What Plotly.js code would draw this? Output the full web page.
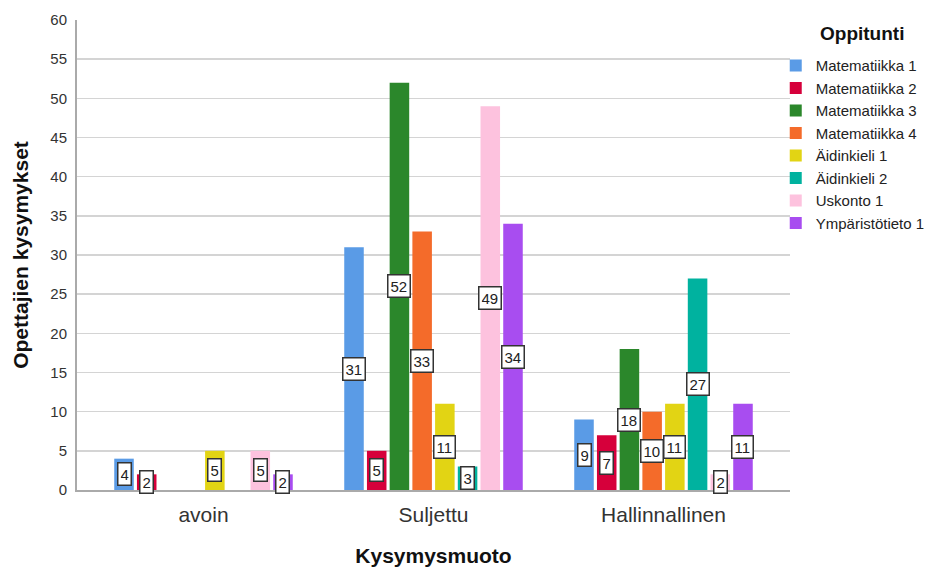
<!DOCTYPE html>
<html>
<head>
<meta charset="utf-8">
<script src="https://cdn.plot.ly/plotly-3.0.1.min.js"></script>
<style>
html,body{margin:0;padding:0;background:#fff}
#chart{width:946px;height:567px}
</style>
</head>
<body>
<div id="chart"></div>
<script>
const categories = ["avoin", "Suljettu", "Hallinnallinen"];
const seriesNames = ["Matematiikka 1", "Matematiikka 2", "Matematiikka 3", "Matematiikka 4", "Äidinkieli 1", "Äidinkieli 2", "Uskonto 1", "Ympäristötieto 1"];
const matematiikka1 = [4, 31, 9];
const matematiikka2 = [2, 5, 7];
const matematiikka3 = [null, 52, 18];
const matematiikka4 = [null, 33, 10];
const aidinkieli1 = [5, 11, 11];
const aidinkieli2 = [null, 3, 27];
const uskonto1 = [5, 49, 2];
const ymparistotieto1 = [2, 34, 11];
const seriesValues = [matematiikka1, matematiikka2, matematiikka3, matematiikka4, aidinkieli1, aidinkieli2, uskonto1, ymparistotieto1];
const colors = ["#5a9be6", "#d6003b", "#2b872b", "#f46b2a", "#e2d414", "#00b29f", "#fdc2de", "#a84df0"];
const yTicks = [0,5,10,15,20,25,30,35,40,45,50,55,60];
const legendTitle = "Oppitunti";

const FONT = "Arial, 'Liberation Sans', sans-serif";
const bargap = 0.21, bargroupgap = 0.14;
const nS = seriesNames.length;
const slot = (1 - bargap) / nS;

const traces = seriesNames.map((name, j) => ({
  type: 'bar', name: name, x: categories, y: seriesValues[j],
  marker: {color: colors[j], line: {width: 0}},
  hoverinfo: 'none'
}));

const annotations = [];
seriesValues.forEach((vals, j) => {
  vals.forEach((v, i) => {
    if (v === null) return;
    annotations.push({
      xref: 'x', yref: 'y',
      x: i - (1 - bargap) / 2 + slot * (j + 0.5),
      y: v / 2,
      text: String(v), showarrow: false,
      font: {family: FONT, size: 15, color: '#222'},
      height: 17,
      bgcolor: '#fff', bordercolor: '#333', borderwidth: 1.5, borderpad: 2
    });
  });
});
annotations.push({
  xref: 'paper', yref: 'paper', x: 1.101, y: 1.0, xanchor: 'center', yanchor: 'bottom',
  yshift: -26,
  text: '<b>' + legendTitle + '</b>', showarrow: false,
  font: {family: FONT, size: 19, color: '#111'}
});

const layout = {
  width: 946, height: 567,
  margin: {l: 77, r: 156, t: 20, b: 77, autoexpand: false},
  paper_bgcolor: '#fff', plot_bgcolor: '#fff',
  font: {family: FONT, color: '#222'},
  barmode: 'group', bargap: bargap, bargroupgap: bargroupgap,
  xaxis: {
    type: 'category', range: [-0.55, 2.55],
    showline: true, linecolor: '#aaa', linewidth: 2,
    ticks: '', showgrid: false, zeroline: false,
    ticklabelstandoff: 5,
    tickfont: {family: FONT, size: 21, color: '#333'},
    title: {text: '<b>Kysymysmuoto</b>', font: {family: FONT, size: 21, color: '#111'}, standoff: 23}
  },
  yaxis: {
    range: [0, 60], tickvals: yTicks, ticktext: yTicks.map(String),
    showline: true, linecolor: '#aaa', linewidth: 2,
    showgrid: true, gridcolor: '#d4d4d4', gridwidth: 1.5, zeroline: false,
    ticks: '', ticklen: 0, ticklabelstandoff: 5,
    tickfont: {family: FONT, size: 15, color: '#333'},
    title: {text: '<b>Opettajien kysymykset</b>', font: {family: FONT, size: 21, color: '#111'}, standoff: 16}
  },
  legend: {
    x: 0.98, xanchor: 'left', y: 0.938, yanchor: 'top',
    font: {family: FONT, size: 15, color: '#222'},
    itemwidth: 30, traceorder: 'normal', bgcolor: 'rgba(0,0,0,0)'
  },
  annotations: annotations,
  showlegend: true
};

Plotly.newPlot('chart', traces, layout, {displayModeBar: false, staticPlot: true});
</script>
</body>
</html>
